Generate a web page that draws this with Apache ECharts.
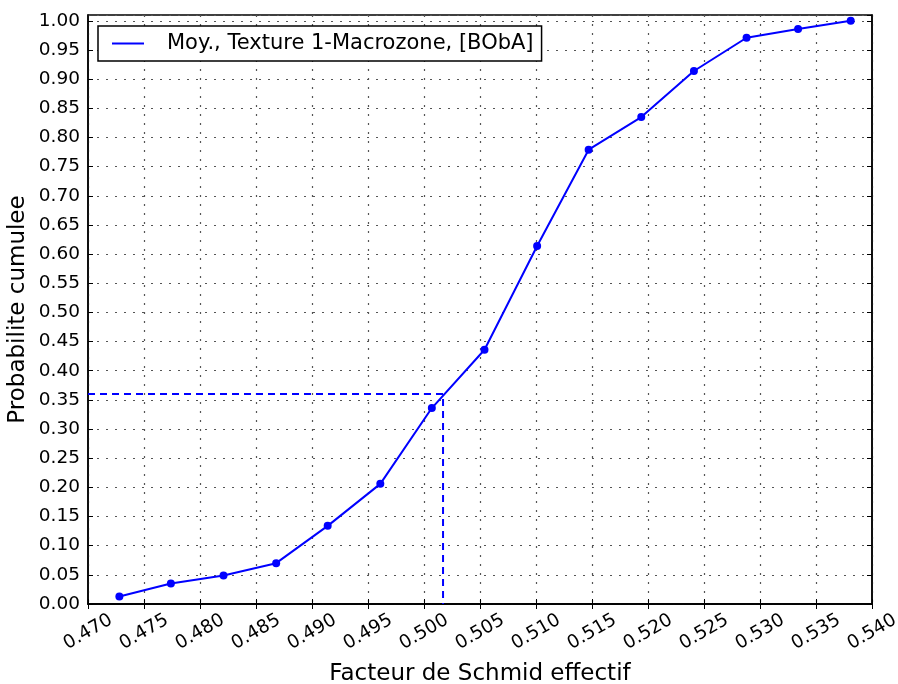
<!DOCTYPE html>
<html>
<head>
<meta charset="utf-8">
<script src="https://cdn.jsdelivr.net/npm/echarts@6/dist/echarts.min.js"></script>
<style>
html,body{margin:0;padding:0;background:#fff;overflow:hidden;}
#chart{width:898px;height:684px;}
</style>
</head>
<body>
<div id="chart"></div>
<script>
// Data
const seriesName = 'Moy., Texture 1-Macrozone, [BObA]';
const schmidX = [0.4728, 0.4774, 0.4821, 0.4868, 0.4914, 0.4961, 0.5007, 0.5054, 0.5101, 0.5147, 0.5194, 0.5241, 0.5288, 0.5334, 0.5381];
const probY   = [0.013, 0.035, 0.049, 0.070, 0.134, 0.206, 0.336, 0.436, 0.614, 0.779, 0.835, 0.914, 0.971, 0.986, 1.000];
const refX = [0.470, 0.5017, 0.5017];
const refY = [0.36, 0.36, 0.0];
const xMin = 0.470, xMax = 0.540, xStep = 0.005;
const yMin = 0.0, yMax = 1.01, yStep = 0.05;

const FONT = 'DejaVu Sans';
const mainData = schmidX.map((x, i) => [x, probY[i]]);
const refData = refX.map((x, i) => [x, refY[i]]);

const chart = echarts.init(document.getElementById('chart'), null, {renderer: 'canvas', width: 898, height: 684});
const gridLine = {show: true, lineStyle: {color: '#555', width: 1.2, type: [2, 7]}};
const tickStyle = {show: true, inside: true, length: 5, lineStyle: {color: '#000', width: 1}};
const axisLineStyle = {show: true, lineStyle: {color: '#000', width: 1.5}};

chart.setOption({
  animation: false,
  backgroundColor: '#fff',
  textStyle: {fontFamily: FONT},
  grid: {left: 88, right: 26, top: 15, bottom: 80, containLabel: false, outerBoundsMode: 'none',
    show: true, borderColor: '#000', borderWidth: 1.5, backgroundColor: 'transparent'},
  legend: {
    data: [{name: seriesName, icon: 'rect'}],
    left: 98, top: 26,
    itemWidth: 32, itemHeight: 2,
    padding: [7, 8, 7, 14],
    borderColor: '#000', borderWidth: 1.5, borderRadius: 0,
    backgroundColor: '#fff',
    textStyle: {fontFamily: FONT, fontSize: 21, color: '#000', padding: [0, 0, 0, 18]}
  },
  xAxis: [{
    type: 'value', min: xMin, max: xMax, interval: xStep,
    name: 'Facteur de Schmid effectif', nameLocation: 'middle', nameGap: 59, nameMoveOverlap: false,
    nameTextStyle: {fontFamily: FONT, fontSize: 23, color: '#000'},
    axisLine: axisLineStyle, axisTick: tickStyle, splitLine: gridLine,
    axisLabel: {rotate: 30, align: 'center', verticalAlign: 'middle', margin: 28,
      fontFamily: FONT, fontSize: 18.5, color: '#000', formatter: v => v.toFixed(3)}
  }, {
    type: 'value', position: 'top', min: xMin, max: xMax, interval: xStep,
    axisLine: axisLineStyle, axisTick: tickStyle, splitLine: {show: false}, axisLabel: {show: false}
  }],
  yAxis: [{
    type: 'value', min: yMin, max: yMax, interval: yStep,
    name: 'Probabilite cumulee', nameLocation: 'middle', nameGap: 58, nameMoveOverlap: false,
    nameTextStyle: {fontFamily: FONT, fontSize: 23, color: '#000'},
    axisLine: axisLineStyle, axisTick: tickStyle, splitLine: gridLine,
    axisLabel: {margin: 8, fontFamily: FONT, fontSize: 18.5, color: '#000',
      showMaxLabel: false,
      formatter: v => (v > 1.0001 ? '' : v.toFixed(2))}
  }, {
    type: 'value', position: 'right', min: yMin, max: yMax, interval: yStep,
    axisLine: axisLineStyle, axisTick: tickStyle, splitLine: {show: false}, axisLabel: {show: false}
  }],
  series: [{
    name: seriesName, type: 'line', data: mainData,
    xAxisIndex: 0, yAxisIndex: 0,
    symbol: 'circle', symbolSize: 8,
    lineStyle: {color: '#0000ff', width: 2},
    itemStyle: {color: '#0000ff'}
  }, {
    name: 'ref', type: 'line', data: refData,
    xAxisIndex: 0, yAxisIndex: 0,
    symbol: 'none',
    lineStyle: {color: '#0000ff', width: 2, type: [7, 5]},
    itemStyle: {color: '#0000ff'}
  }]
});
</script>
</body>
</html>
